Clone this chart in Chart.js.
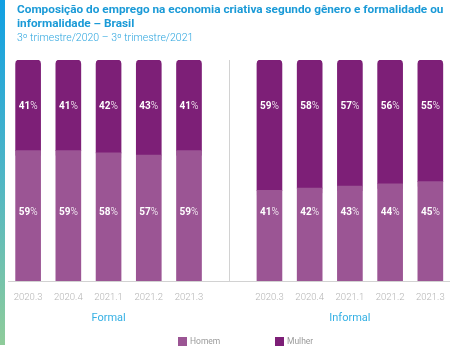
<!DOCTYPE html>
<html lang="pt-BR">
<head>
<meta charset="utf-8">
<title>Economia criativa - gênero e formalidade</title>
<script src="https://cdn.jsdelivr.net/npm/chart.js@4/dist/chart.umd.min.js"></script>
<style>
    html, body {
        margin: 0;
        padding: 0;
        background: #fff;
        overflow: hidden;
    }
    .page {
        position: relative;
        width: 450px;
        height: 347px;
        overflow: hidden;
        font-family: Roboto, "Noto Sans", sans-serif;
    }
    .stripe {
        position: absolute;
        left: 0;
        top: 0;
        width: 5px;
        height: 345px;
        background: linear-gradient(to bottom, #109fe3 0%, #4db5c6 50%, #8fcc9a 100%);
    }
    #myChart {
        position: absolute;
        left: 0;
        top: 0;
    }
    .title {
        position: absolute;
        left: 17px;
        top: 2px;
        margin: 0;
        font-size: 11.8px;
        line-height: 14px;
        font-weight: 700;
        color: #1a9ad7;
    }
    .subtitle {
        position: absolute;
        left: 17px;
        top: 31px;
        margin: 0;
        font-size: 10.5px;
        font-weight: 300;
        color: #2ea6df;
    }
    .legend {
        position: absolute;
        top: 335px;
        left: 178px;
        font-size: 8.5px;
        color: #9a9a9a;
        white-space: nowrap;
    }
    .legend span {
        display: inline-block;
        vertical-align: middle;
    }
    .legend .box {
        width: 9px;
        height: 9px;
        margin-right: 3px;
    }
    .legend .item {
        display: inline-block;
        width: 97px;
    }
</style>
</head>
<body>
<div class="page">
    <div class="stripe"></div>
    <canvas id="myChart" width="456" height="347"></canvas>
    <p class="title">Composição do emprego na economia criativa segundo gênero e formalidade ou<br>informalidade – Brasil</p>
    <p class="subtitle">3º trimestre/2020 – 3º trimestre/2021</p>
    <div class="legend" id="legend"></div>
</div>

<script>
/*-------------------------------------------------------------------------------
 DATA
 -------------------------------------------------------------------------------*/

let periods = ['2020.3', '2020.4', '2021.1', '2021.2', '2021.3'];
let groups = ['Formal', 'Informal'];
let seriesNames = ['Homem', 'Mulher'];
let seriesColors = ['#9b5594', '#7d1f77'];

let formalHomem = [59, 59, 58, 57, 59];
let formalMulher = [41, 41, 42, 43, 41];
let informalHomem = [41, 42, 43, 44, 45];
let informalMulher = [59, 58, 57, 56, 55];

// height (in % of the scale) where each series puts its value text
let labelLevels = [31, 79];


/* Build the axis row: formal block, empty spacer, informal block
 -----------------------------------------------*/

let labels = periods.concat([''], periods);

function joinSeries(a, b) {
    return a.concat([null], b);
}

let homem = joinSeries(formalHomem, informalHomem);
let mulher = joinSeries(formalMulher, informalMulher);


/* Plugins
 -----------------------------------------------*/

// fills the small corners above the rounded top of the lower segment
let cornerFill = {
    id: 'cornerFill',
    beforeDatasetsDraw: function (chart) {
        let ctx = chart.ctx;
        let bars = chart.getDatasetMeta(0).data;
        ctx.save();
        ctx.fillStyle = seriesColors[1];
        for (let i = 0; i < bars.length; i++) {
            if (homem[i] == null) continue;
            let b = bars[i];
            ctx.fillRect(b.x - b.width / 2, b.y, b.width, 5);
        }
        ctx.restore();
    }
};

// "41%" style text, number bold and percent sign light
let valueText = {
    id: 'valueText',
    afterDatasetsDraw: function (chart) {
        let ctx = chart.ctx;
        let yScale = chart.scales.y;
        ctx.save();
        ctx.fillStyle = '#ffffff';
        ctx.textBaseline = 'middle';
        ctx.textAlign = 'left';
        for (let d = 0; d < chart.data.datasets.length; d++) {
            let meta = chart.getDatasetMeta(d);
            let values = chart.data.datasets[d].data;
            let y = yScale.getPixelForValue(labelLevels[d]);
            for (let i = 0; i < values.length; i++) {
                if (values[i] == null) continue;
                let num = String(values[i]);
                ctx.font = 'bold 10px Roboto';
                let w1 = ctx.measureText(num).width;
                ctx.font = '300 10px Roboto';
                let w2 = ctx.measureText('%').width;
                let x = meta.data[i].x - (w1 + w2) / 2;
                ctx.font = 'bold 10px Roboto';
                ctx.fillText(num, x, y);
                ctx.font = '300 10px Roboto';
                ctx.fillText('%', x + w1, y);
            }
        }
        ctx.restore();
    }
};

// "Formal" / "Informal" centred under their five periods
let groupText = {
    id: 'groupText',
    afterDraw: function (chart) {
        let ctx = chart.ctx;
        let xScale = chart.scales.x;
        let n = periods.length;
        let y = chart.chartArea.bottom + 37;
        ctx.save();
        ctx.fillStyle = '#35b0e4';
        ctx.font = '11px Roboto';
        ctx.textAlign = 'center';
        ctx.textBaseline = 'middle';
        for (let g = 0; g < groups.length; g++) {
            let first = g * (n + 1);
            let x = (xScale.getPixelForValue(first) + xScale.getPixelForValue(first + n - 1)) / 2;
            ctx.fillText(groups[g], x, y);
        }
        ctx.restore();
    }
};


/* Chart
 -----------------------------------------------*/

function drawChart() {
    let ctx = document.getElementById('myChart').getContext('2d');

    let myChart = new Chart(ctx, {
        type: 'bar',
        data: {
            labels: labels,
            datasets: [{
                label: seriesNames[0],
                data: homem,
                backgroundColor: seriesColors[0],
                borderRadius: 4,
                borderSkipped: false,
                order: 1
            }, {
                label: seriesNames[1],
                data: mulher,
                backgroundColor: seriesColors[1],
                borderRadius: {topLeft: 4, topRight: 4, bottomLeft: 0, bottomRight: 0},
                borderSkipped: 'start',
                order: 2
            }]
        },
        options: {
            responsive: false,
            animation: false,
            barThickness: 25,
            layout: {
                padding: {top: 60, left: 8, right: 1, bottom: 32}
            },
            plugins: {
                legend: {display: false},
                tooltip: {enabled: false}
            },
            scales: {
                x: {
                    stacked: true,
                    grid: {
                        offset: false,
                        drawTicks: false,
                        color: function (c) {
                            return c.index === 5 ? '#d2d2d2' : 'rgba(0,0,0,0)';
                        }
                    },
                    border: {color: '#d2d2d2'},
                    ticks: {
                        padding: 11.3,
                        color: '#b4b4b4',
                        font: {family: 'Roboto', size: 9.5, weight: 300},
                        maxRotation: 0,
                        autoSkip: false
                    }
                },
                y: {
                    stacked: true,
                    display: false,
                    min: 0,
                    max: 100
                }
            }
        },
        plugins: [cornerFill, valueText, groupText]
    });

    return myChart;
}

function drawLegend() {
    let html = '';
    for (let i = 0; i < seriesNames.length; i++) {
        html += '<span class="item"><span class="box" style="background:' + seriesColors[i] + '"></span>' +
            '<span>' + seriesNames[i] + '</span></span>';
    }
    document.getElementById('legend').innerHTML = html;
}

drawLegend();
drawChart();
</script>
</body>
</html>
